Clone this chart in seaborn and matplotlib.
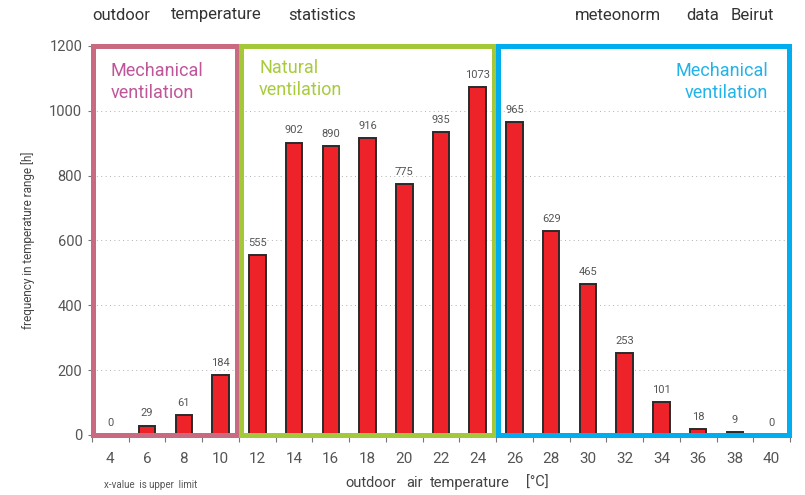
import matplotlib
matplotlib.use("Agg")
import matplotlib.pyplot as plt
import seaborn as sns
import numpy as np
import pandas as pd
from matplotlib.patches import Rectangle

temps = ["4", "6", "8", "10", "12", "14", "16", "18", "20", "22", "24",
         "26", "28", "30", "32", "34", "36", "38", "40"]
hours = [0, 29, 61, 184, 555, 902, 890, 916, 775, 935, 1073,
         965, 629, 465, 253, 101, 18, 9, 0]
y_ticks = [0, 200, 400, 600, 800, 1000, 1200]

sns.set_theme(style="white")
plt.rcParams['font.family'] = ['Roboto', 'DejaVu Sans']

fig = plt.figure(figsize=(8.05, 4.95), dpi=100)
ax = fig.add_axes([92/805, 60/495, (790-92)/805, 389/495])

df = pd.DataFrame({"temp": temps, "hours": hours})
sns.barplot(data=df, x="temp", y="hours", color="#EE2229", width=0.45,
            edgecolor="#2a2a2a", linewidth=1.4, saturation=1, ax=ax, zorder=3)

ax.set_xlim(-0.5, len(temps) - 0.5)
ax.set_ylim(0, 1200)
ax.set_yticks(y_ticks)
ax.set_yticklabels([str(v) for v in y_ticks], fontsize=10.5, color="#555555")
ax.set_xticks(range(len(temps)))
ax.set_xticklabels(temps, fontsize=11, color="#555555")
ax.set_xticks(np.arange(-0.5, len(temps)), minor=True)
ax.tick_params(axis="x", which="major", length=0, pad=12)
ax.tick_params(axis="x", which="minor", length=5, color="#777777", width=0.8, bottom=True)
ax.tick_params(axis="y", length=3, color="#777777", width=0.8, left=True, pad=4)
ax.set_xlabel("")
ax.set_ylabel("frequency in temperature range [h]", fontsize=8.5, color="#444444", labelpad=10)

for s in ["top", "right"]:
    ax.spines[s].set_visible(False)
for s in ["left", "bottom"]:
    ax.spines[s].set_color("#888888")
    ax.spines[s].set_linewidth(0.8)

for yv in y_ticks[1:-1]:
    ax.axhline(yv, color="#b0b0b0", linestyle=(0, (1, 3.5)), linewidth=0.7, zorder=1)

for i, v in enumerate(hours):
    ax.text(i, v + 22, str(v), ha="center", va="bottom", fontsize=8, color="#555555", zorder=4)

lw = 3.6
boxes = [(-0.46, 3.44, "#C96A80"), (3.56, 10.44, "#A3C83A"), (10.56, 18.46, "#00AEEF")]
for x0, x1, c in boxes:
    ax.add_patch(Rectangle((x0, 0), x1 - x0, 1200, fill=False, edgecolor=c,
                           linewidth=lw, clip_on=False, zorder=5, joinstyle="miter"))

ax.text(0.0, 1150, "Mechanical\nventilation", ha="left", va="top", fontsize=13,
        color="#C0559A", linespacing=1.3)
ax.text(4.05, 1160, "Natural\nventilation", ha="left", va="top", fontsize=13,
        color="#A8CB3E", linespacing=1.3)
ax.text(17.9, 1150, "Mechanical\nventilation", ha="right", va="top", fontsize=13,
        color="#22B3EA", linespacing=1.3)

# title words
for x, w in [(92, "outdoor"), (171, "temperature"), (288, "statistics"),
             (575, "meteonorm"), (686, "data"), (731, "Beirut")]:
    fig.text(x/805, 1 - 15/495, w, ha="left", va="center", fontsize=12, color="#333333")

# x label words
for x, w in [(345, "outdoor"), (406, "air"), (430, "temperature"), (526, "[°C]")]:
    fig.text(x/805, 1 - 483/495, w, ha="left", va="center", fontsize=10.5, color="#444444")

fig.text(104/805, 1 - 485/495, "x-value  is upper  limit", ha="left", va="center",
         fontsize=7, color="#555555")

fig.savefig("out.png", dpi=100)
